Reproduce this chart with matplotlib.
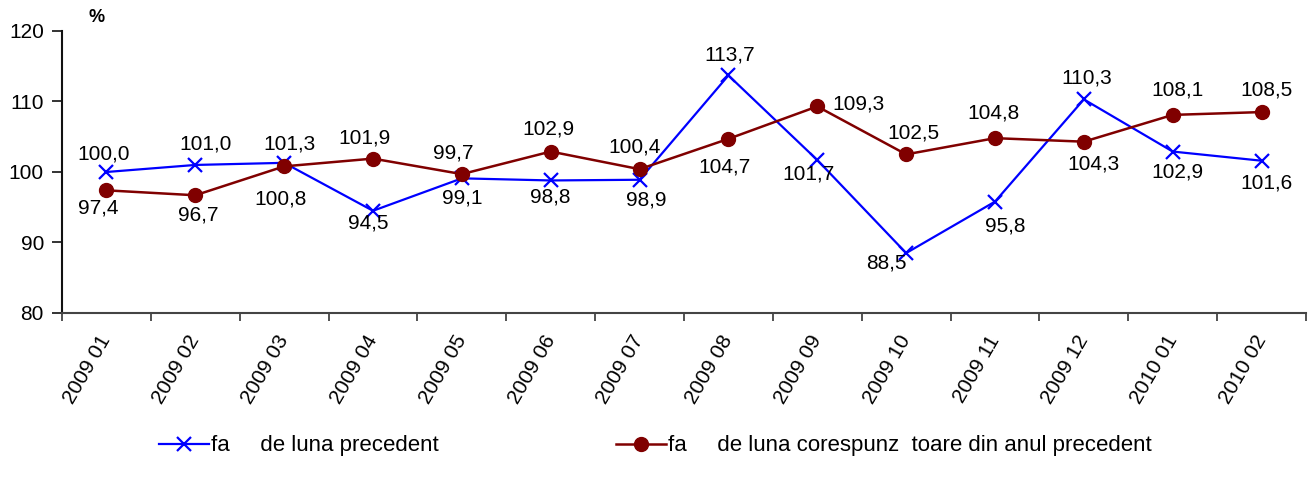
import matplotlib
matplotlib.use("Agg")
import matplotlib.pyplot as plt
from matplotlib.lines import Line2D
from matplotlib.transforms import ScaledTranslation

plt.rcParams['font.family'] = ['Liberation Sans', 'DejaVu Sans']

categories = ["2009 01", "2009 02", "2009 03", "2009 04", "2009 05", "2009 06", "2009 07",
              "2009 08", "2009 09", "2009 10", "2009 11", "2009 12", "2010 01", "2010 02"]
prev_month = [100.0, 101.0, 101.3, 94.5, 99.1, 98.8, 98.9, 113.7, 101.7, 88.5, 95.8, 110.3, 102.9, 101.6]
prev_year = [97.4, 96.7, 100.8, 101.9, 99.7, 102.9, 100.4, 104.7, 109.3, 102.5, 104.8, 104.3, 108.1, 108.5]
label_prev_month = "fa     de luna precedent"
label_prev_year = "fa     de luna corespunz  toare din anul precedent"
y_ticks = [80, 90, 100, 110, 120]

# label offsets in pixels (dx, dy)
off_blue = [(-3, 18), (10, 21), (5, 19), (-5, -12), (0, -20), (0, -17), (7, -20),
            (1, 20), (-9, -14), (-20, -10), (10, -24), (3, 21), (5, -20), (5, -22)]
off_red = [(-8, -18), (3, -20), (-4, -33), (-9, 21), (-9, 21), (-2, 23), (-5, 22),
           (-4, -28), (41, 2), (7, 21), (-1, 25), (10, -22), (5, 25), (5, 22)]

W, H = 1308, 487
fig = plt.figure(figsize=(W / 100, H / 100), dpi=100)
ax = fig.add_axes([62 / W, 1 - 313 / H, (1306 - 62) / W, (313 - 31) / H])

BLUE = "#0000FF"
RED = "#800000"
x = list(range(len(categories)))

ax.plot(x, prev_month, color=BLUE, lw=1.6, marker="x", markersize=10, markeredgewidth=1.6,
        zorder=3, clip_on=False)
ax.plot(x, prev_year, color=RED, lw=1.8, marker="o", markersize=10, zorder=4, clip_on=False)

fs = 15
for i, v in enumerate(prev_month):
    ax.annotate(f"{v:.1f}".replace(".", ","), (i, v), xytext=off_blue[i], textcoords="offset pixels",
                ha="center", va="center", fontsize=fs, color="black", zorder=5)
for i, v in enumerate(prev_year):
    ax.annotate(f"{v:.1f}".replace(".", ","), (i, v), xytext=off_red[i], textcoords="offset pixels",
                ha="center", va="center", fontsize=fs, color="black", zorder=5)

ax.set_xlim(-0.5, len(categories) - 0.5)
ax.set_ylim(80, 120)
ax.set_yticks(y_ticks)
ax.set_yticklabels([str(t) for t in y_ticks], fontsize=fs)
ax.set_xticks([i - 0.5 for i in range(len(categories) + 1)])
ax.set_xticklabels([])
ax.set_xticks(x, minor=True)
ax.set_xticklabels(categories, minor=True, rotation=60, ha="right", va="center",
                   rotation_mode="anchor", fontsize=fs)
shift = ScaledTranslation(-4 / 100, 0, fig.dpi_scale_trans)
for lab in ax.get_xticklabels(minor=True):
    lab.set_transform(lab.get_transform() + shift)
ax.tick_params(axis="x", which="minor", length=0, pad=17)
ax.tick_params(axis="x", which="major", length=6, width=1.2, direction="out", color="#333333")
ax.tick_params(axis="y", length=7, width=1.2, direction="out", pad=6, color="#111111")

for s in ["top", "right"]:
    ax.spines[s].set_visible(False)
ax.spines["left"].set_linewidth(1.5)
ax.spines["left"].set_color("#111111")
ax.spines["bottom"].set_linewidth(1.5)
ax.spines["bottom"].set_color("#444444")

fig.text(97 / W, 1 - 17 / H, "%", fontsize=13, fontweight="bold", ha="center", va="center")

h1 = Line2D([], [], color=BLUE, lw=1.6, marker="x", markersize=10, markeredgewidth=1.6)
h2 = Line2D([], [], color=RED, lw=1.8, marker="o", markersize=10)
fig.legend([h1], [label_prev_month], loc="center left", bbox_to_anchor=(159 / W, 1 - 446 / H),
           frameon=False, fontsize=16, handlelength=2.25, handletextpad=0.1,
           borderpad=0, borderaxespad=0)
fig.legend([h2], [label_prev_year], loc="center left", bbox_to_anchor=(616 / W, 1 - 446 / H),
           frameon=False, fontsize=16, handlelength=2.25, handletextpad=0.1,
           borderpad=0, borderaxespad=0)

fig.savefig("out.png", dpi=100)
